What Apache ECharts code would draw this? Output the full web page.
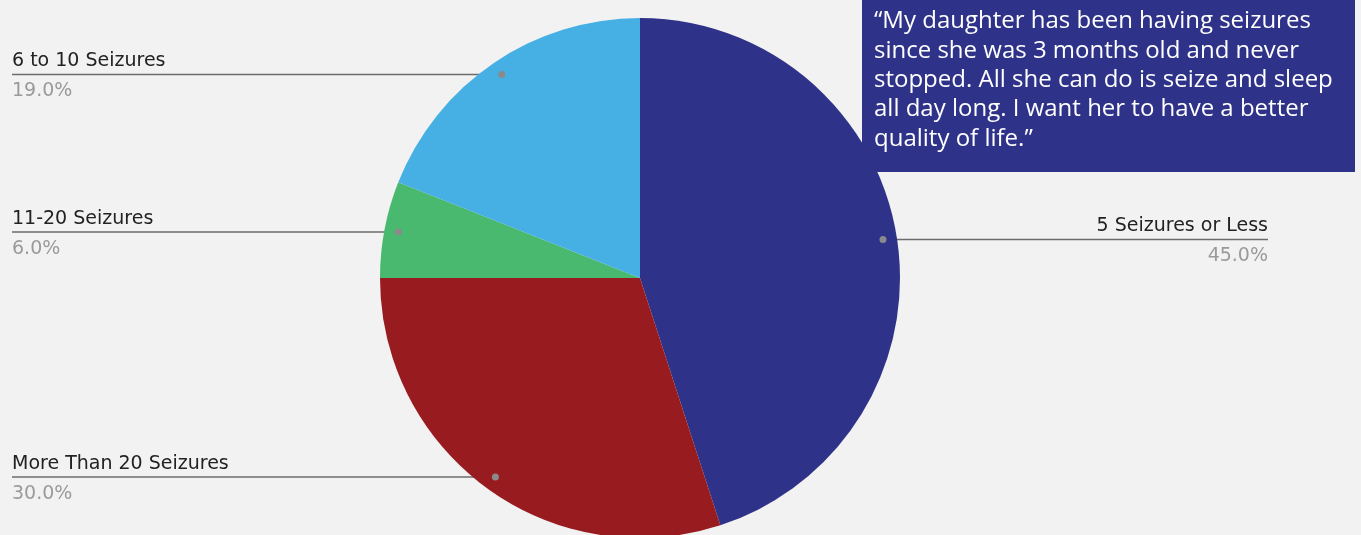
<!DOCTYPE html>
<html>
<head>
<meta charset="utf-8">
<script src="https://cdn.jsdelivr.net/npm/echarts@6/dist/echarts.min.js"></script>
<style>
  html, body { margin: 0; padding: 0; background: #F2F2F2; }
  #chart { width: 1361px; height: 535px; }
</style>
</head>
<body>
<div id="chart"></div>
<script>
// Seizure frequency breakdown (percent of respondents)
const categories = ['5 Seizures or Less', 'More Than 20 Seizures', '11-20 Seizures', '6 to 10 Seizures'];
const shares = [45, 30, 6, 19];
const sliceColors = ['#2E3289', '#981B1F', '#48B96F', '#46AFE3'];
const quoteLines = [
  '\u201CMy daughter has been having seizures',
  'since she was 3 months old and never',
  'stopped. All she can do is seize and sleep',
  'all day long. I want her to have a better',
  'quality of life.\u201D'
];

const CENTER = [640, 278];
const RADIUS = 260;
const LABEL_RADIUS = 246;
const LEFT_EDGE = 12;
const RIGHT_EDGE = 1268;

const pieData = categories.map((name, i) => ({ name, value: shares[i], itemStyle: { color: sliceColors[i] } }));
const ghostData = categories.map((name, i) => ({ name, value: shares[i] }));

const labelFont = 'DejaVu Sans';

const chart = echarts.init(document.getElementById('chart'), null, { renderer: 'canvas' });
chart.setOption({
  backgroundColor: '#F2F2F2',
  animation: false,
  series: [
    {
      // the slices
      type: 'pie',
      center: CENTER,
      radius: RADIUS,
      startAngle: 90,
      clockwise: true,
      silent: true,
      label: { show: false },
      labelLine: { show: false },
      data: pieData
    },
    {
      // category + percentage labels with horizontal leader lines
      type: 'pie',
      center: CENTER,
      radius: LABEL_RADIUS,
      startAngle: 90,
      clockwise: true,
      silent: true,
      itemStyle: { color: 'rgba(0,0,0,0)' },
      label: {
        show: true,
        position: 'outside',
        formatter: p => '{n|' + p.name + '}\n{p|' + p.percent.toFixed(1) + '%}',
        rich: {
          n: { fontFamily: labelFont, fontSize: 19, color: '#222222', lineHeight: 30 },
          p: { fontFamily: labelFont, fontSize: 19, color: '#9A9A9A', lineHeight: 30 }
        }
      },
      labelLine: { show: true, length: 4, length2: 4, lineStyle: { color: '#6C6C6C', width: 1.5 } },
      labelLayout: function (params) {
        const pts = params.labelLinePoints;
        if (!pts) return {};
        const sx = pts[0][0], sy = pts[0][1];
        const left = sx < CENTER[0];
        const ex = left ? LEFT_EDGE : RIGHT_EDGE;
        return {
          x: ex,
          y: sy + 2,
          align: left ? 'left' : 'right',
          verticalAlign: 'middle',
          labelLinePoints: [[sx, sy], [ex, sy]]
        };
      },
      data: ghostData
    },
    {
      // anchor dots where the leader lines meet the slices
      type: 'pie',
      center: CENTER,
      radius: [LABEL_RADIUS - 17, LABEL_RADIUS + 11],
      startAngle: 90,
      clockwise: true,
      silent: true,
      itemStyle: { color: 'rgba(0,0,0,0)' },
      label: {
        show: true,
        position: 'inside',
        rotate: 0,
        formatter: '{d|}',
        rich: { d: { width: 7, height: 7, borderRadius: 3.5, backgroundColor: '#8A8A8A' } }
      },
      labelLine: { show: false },
      data: ghostData
    }
  ],
  graphic: [
    {
      type: 'rect',
      left: 862,
      top: 0,
      shape: { width: 493, height: 172 },
      style: { fill: '#2E3289' },
      z: 10
    },
    {
      type: 'text',
      left: 874,
      top: 7,
      style: {
        text: quoteLines.join('\n'),
        font: '24px "Open Sans"',
        fill: '#FFFFFF',
        lineHeight: 29.3
      },
      z: 11
    }
  ]
});
</script>
</body>
</html>
